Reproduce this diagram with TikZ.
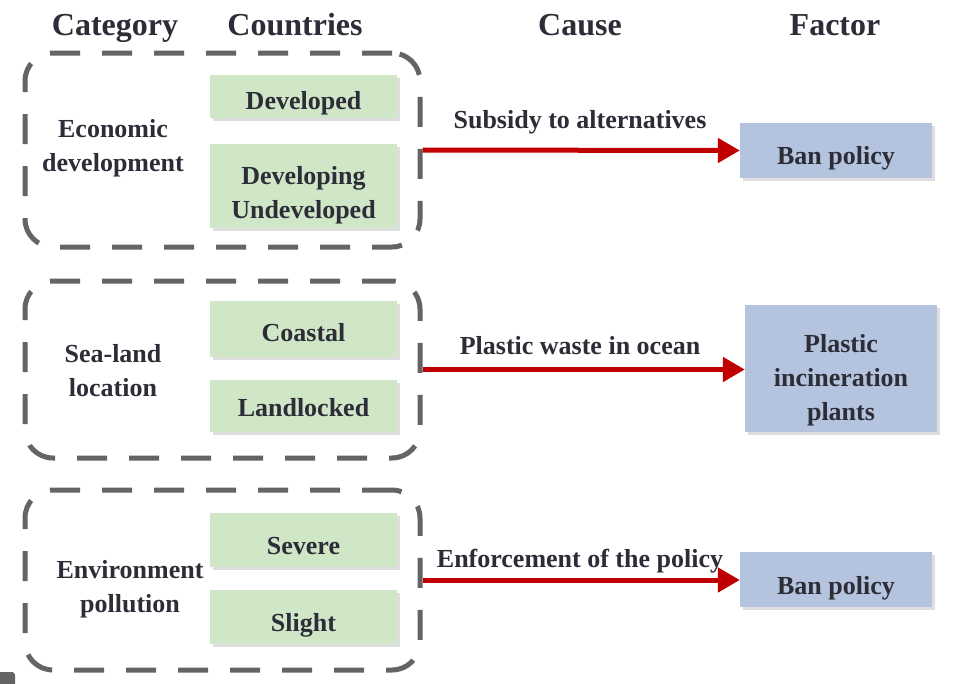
\documentclass[tikz,border=0pt]{standalone}
\usepackage{fontspec}
\setmainfont{Liberation Serif}
\usetikzlibrary{arrows.meta,shadows}
\definecolor{txt}{RGB}{45,45,55}
\definecolor{grn}{RGB}{207,230,199}
\definecolor{blu}{RGB}{180,196,222}
\definecolor{dsh}{RGB}{100,100,100}
\definecolor{arr}{RGB}{192,0,0}
\newcommand\bxtext[2]{\raisebox{#1}[\height][\depth]{\begin{tabular}{@{}c@{}}#2\end{tabular}}}
\begin{document}
\begin{tikzpicture}[x=1pt,y=-1pt,
  hdr/.style={font=\fontsize{32}{36}\selectfont\bfseries, text=txt, anchor=base},
  lbl/.style={font=\fontsize{26}{34}\selectfont\bfseries, text=txt, align=center},
  grp/.style={draw=dsh, line width=5pt, dash pattern=on 30pt off 22pt,
    rounded corners=28pt, minimum width=395pt, minimum height=#1, inner sep=0pt},
  gbox/.style={lbl, fill=grn, minimum width=187pt, minimum height=#1, inner sep=0pt,
    drop shadow={shadow xshift=2.5pt, shadow yshift=-2.5pt, fill=black!13, opacity=1}},
  fbox/.style={lbl, fill=blu, minimum width=192pt, minimum height=#1, inner sep=0pt,
    drop shadow={shadow xshift=2.5pt, shadow yshift=-2.5pt, fill=black!13, opacity=1}},
  link/.style={draw=arr, line width=5pt, -{Triangle[length=22pt,width=24pt]}}
]
\useasboundingbox (0,0) rectangle (965,683);
\fill[white] (0,0) rectangle (965,683);

% headers
\node[hdr] (hcat) at (115,35) {Category};
\node[hdr] (hcou) at (295,35) {Countries};
\node[hdr] (hcau) at (580,35) {Cause};
\node[hdr] (hfac) at (835,35) {Factor};

% groups
\node[grp=194pt] (g1) at (222.5,150) {};
\node[grp=177pt] (g2) at (222.5,369.5) {};
\node[grp=180pt] (g3) at (222.5,580) {};

% category labels
\node[lbl] (c1) at (113,148) {Economic\\development};
\node[lbl] (c2) at (113,371) {Sea-land\\location};
\node[lbl] (c3) at (130,589) {Environment\\pollution};

% country boxes
\node[gbox=43pt] (k1) at (303.5,96.5) {\bxtext{-6pt}{Developed}};
\node[gbox=84pt] (k2) at (303.5,186) {\bxtext{-9pt}{Developing\\Undeveloped}};
\node[gbox=56pt] (k3) at (303.5,329) {\bxtext{-6pt}{Coastal}};
\node[gbox=52pt] (k4) at (303.5,406) {\bxtext{-4pt}{Landlocked}};
\node[gbox=54pt] (k5) at (303.5,540) {\bxtext{-8pt}{Severe}};
\node[gbox=54pt] (k6) at (303.5,617) {\bxtext{-8pt}{Slight}};

% factor boxes
\node[fbox=55pt] (f1) at (836,150.5) {\bxtext{-7pt}{Ban policy}};
\node[fbox=127pt] (f2) at (841,368.5) {\bxtext{-11pt}{Plastic\\incineration\\plants}};
\node[fbox=55pt] (f3) at (836,579.5) {\bxtext{-8pt}{Ban policy}};

% arrows
\draw[link] (g1.east) -- (f1.west);
\draw[link] (g2.east) -- (f2.west |- g2.east);
\draw[link] (g3.east) -- (f3.west |- g3.east);

% cause labels
\node[lbl] (t1) at (580,122) {Subsidy to alternatives};
\node[lbl] (t2) at (580,346) {Plastic waste in ocean};
\node[lbl] (t3) at (580,561) {Enforcement of the policy};

% small corner mark
\fill[dsh, rounded corners=3pt] (-10,672) rectangle (15,700);
\end{tikzpicture}
\end{document}
